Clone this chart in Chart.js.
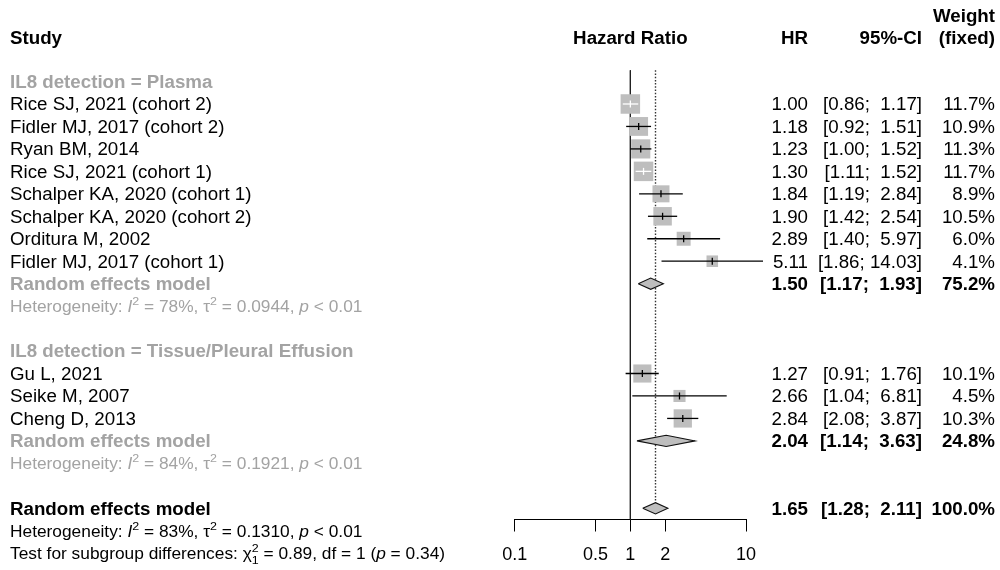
<!DOCTYPE html>
<html><head><meta charset="utf-8">
<script src="https://cdn.jsdelivr.net/npm/chart.js@4.4.1/dist/chart.umd.min.js"></script>
<style>html,body{margin:0;padding:0;background:#fff;}#wrap{width:1000px;height:570px;}</style>
</head><body><div id="wrap"><canvas id="c" width="1000" height="570"></canvas></div>
<script>
// ---------- data ----------
const studies = ["Rice SJ, 2021 (cohort 2)", "Fidler MJ, 2017 (cohort 2)", "Ryan BM, 2014", "Rice SJ, 2021 (cohort 1)",
  "Schalper KA, 2020 (cohort 1)", "Schalper KA, 2020 (cohort 2)", "Orditura M, 2002", "Fidler MJ, 2017 (cohort 1)",
  "Gu L, 2021", "Seike M, 2007", "Cheng D, 2013"];
const hr      = [1.00, 1.18, 1.23, 1.30, 1.84, 1.90, 2.89, 5.11, 1.27, 2.66, 2.84];
const ciLower = [0.86, 0.92, 1.00, 1.11, 1.19, 1.42, 1.40, 1.86, 0.91, 1.04, 2.08];
const ciUpper = [1.17, 1.51, 1.52, 1.52, 2.84, 2.54, 5.97, 14.03, 1.76, 6.81, 3.87];
const weights = [11.7, 10.9, 11.3, 11.7, 8.9, 10.5, 6.0, 4.1, 10.1, 4.5, 10.3];
const studyGroup = [0, 0, 0, 0, 0, 0, 0, 0, 1, 1, 1];
const groupLabels = ["IL8 detection = Plasma", "IL8 detection = Tissue/Pleural Effusion"];
const groupHR = [1.50, 2.04];
const groupLower = [1.17, 1.14];
const groupUpper = [1.93, 3.63];
const groupWeight = [75.2, 24.8];
const groupI2 = ["78%", "84%"];
const groupTau2 = ["0.0944", "0.1921"];
const groupP = ["< 0.01", "< 0.01"];
const overallHR = 1.65, overallLower = 1.28, overallUpper = 2.11, overallWeight = 100.0;
const overallI2 = "83%", overallTau2 = "0.1310", overallP = "< 0.01";
const testChi2 = "0.89", testDf = "1", testP = "0.34";
const xTicks = [0.1, 0.5, 1, 2, 10];

// ---------- layout (rows) ----------
const rowOf = [], groupHeadRow = [], groupSumRow = [], groupHetRow = [];
let r = -1;
groupLabels.forEach((g, gi) => {
  groupHeadRow[gi] = r++;
  studies.forEach((s, i) => { if (studyGroup[i] === gi) rowOf[i] = r++; });
  groupSumRow[gi] = r++; groupHetRow[gi] = r++; r++;
});
const overallRow = r, overallHetRow = r + 1, testRow = r + 2;
const headerRow = -2.95, header2Row = -3.93;
const yMin = groupHeadRow[0] - 0.5, yMax = overallRow + 0.5;
const DH = 0.25; // diamond half height (rows)

const FONT = '"Liberation Sans", Arial, Helvetica, sans-serif';
const SX = 1.07;
const GRAY_TXT = '#a3a3a3';
const BOX = '#bebebe';
const maxW = Math.max(...weights);
const boxSide = w => 19.5 * Math.sqrt(w / maxW);

function ciInside(chart, i) {
  const xs = chart.scales.x;
  const c = xs.getPixelForValue(hr[i]), h = boxSide(weights[i]) / 2;
  return xs.getPixelForValue(ciLower[i]) >= c - h && xs.getPixelForValue(ciUpper[i]) <= c + h;
}

// ---------- datasets ----------
const datasets = [];
datasets.push({ label: 'null', data: [{x: 1, y: yMin}, {x: 1, y: yMax}], showLine: true, pointRadius: 0,
  borderColor: '#222', borderWidth: 1, order: 100, clip: false });
datasets.push({ label: 'overall', data: [{x: overallHR, y: yMin}, {x: overallHR, y: overallRow - DH}], showLine: true, pointRadius: 0,
  borderColor: '#333', borderWidth: 1.4, borderDash: [1.5, 1.7], order: 99, clip: false });
datasets.push({ label: 'boxes', data: hr.map((v, i) => ({x: v, y: rowOf[i]})), showLine: false,
  pointStyle: 'rect', pointRadius: c => boxSide(weights[c.dataIndex]) / (2 * Math.SQRT1_2),
  pointBackgroundColor: BOX, pointBorderColor: BOX, pointBorderWidth: 0, order: 50, clip: false });
hr.forEach((v, i) => {
  datasets.push({ label: 'ci' + i, data: [{x: ciLower[i], y: rowOf[i]}, {x: ciUpper[i], y: rowOf[i]}],
    showLine: true, pointRadius: 0, borderWidth: 1.3,
    borderColor: c => ciInside(c.chart, i) ? '#ffffff' : '#000000', order: 40, clip: false });
});
datasets.push({ label: 'est', data: hr.map((v, i) => ({x: v, y: rowOf[i]})), showLine: false,
  pointStyle: 'line', pointRotation: 90, pointRadius: 3.5, pointBorderWidth: 1.3,
  pointBorderColor: c => ciInside(c.chart, c.dataIndex) ? '#ffffff' : '#000000', order: 30, clip: false });
function diamond(est, lo, hi, row) {
  return { data: [{x: lo, y: row}, {x: est, y: row - DH}, {x: hi, y: row}, {x: est, y: row + DH}, {x: lo, y: row}],
    showLine: true, pointRadius: 0, fill: 'shape', backgroundColor: BOX, borderColor: '#111', borderWidth: 1.1,
    tension: 0, order: 20, clip: false };
}
groupHR.forEach((v, gi) => datasets.push(diamond(v, groupLower[gi], groupUpper[gi], groupSumRow[gi])));
datasets.push(diamond(overallHR, overallLower, overallUpper, overallRow));

// ---------- text ----------
function drawRich(ctx, segs, x, y, align, size, color, bold) {
  const w8 = bold ? 'bold ' : '';
  const parts = segs.map(s => typeof s === 'string' ? {t: s} : s);
  const fnt = (p, sz) => `${p.i ? 'italic ' : ''}${w8}${sz}px ${FONT}`;
  const ss = size * 0.72;
  const widthOf = p => {
    if (p.sup !== undefined || p.supsub) {
      ctx.font = fnt({}, ss);
      const a = p.supsub ? Math.max(ctx.measureText(p.supsub[0]).width, ctx.measureText(p.supsub[1]).width) : ctx.measureText(p.sup).width;
      return a * SX;
    }
    ctx.font = fnt(p, size);
    return ctx.measureText(p.t).width * SX;
  };
  const total = parts.reduce((a, p) => a + widthOf(p), 0);
  let cx = align === 'right' ? x - total : align === 'center' ? x - total / 2 : x;
  const base = y + size * 0.36;
  ctx.fillStyle = color;
  ctx.textBaseline = 'alphabetic';
  ctx.textAlign = 'left';
  const put = (t, font, px, py) => { ctx.save(); ctx.font = font; ctx.translate(px, py); ctx.scale(SX, 1); ctx.fillText(t, 0, 0); ctx.restore(); };
  parts.forEach(p => {
    const w = widthOf(p);
    if (p.supsub) {
      put(p.supsub[0], fnt({}, ss), cx, base - size * 0.42);
      put(p.supsub[1], fnt({}, ss), cx, base + size * 0.3);
    } else if (p.sup !== undefined) {
      put(p.sup, fnt({}, ss), cx, base - size * 0.42);
    } else {
      put(p.t, fnt(p, size), cx, base);
    }
    cx += w;
  });
}
const ciText = (lo, hi) => `[${lo.toFixed(2)}; ${hi < 10 ? ' ' : ''}${hi.toFixed(2)}]`;
const hetSegs = (i2, tau2, p) => ['Heterogeneity: ', {t: 'I', i: true}, {sup: '2'}, ` = ${i2}, \u03c4`, {sup: '2'}, ` = ${tau2}, `, {t: 'p', i: true}, ` ${p}`];

const textPlugin = {
  id: 'forestText',
  afterDraw(chart) {
    const ctx = chart.ctx, ys = chart.scales.y, xs = chart.scales.x;
    const Y = row => ys.getPixelForValue(row);
    const M = 17.5, S = 16.2;
    const xL = 10, xHR = 808, xCI = 922, xW = 995;
    // headers
    drawRich(ctx, ['Study'], xL, Y(headerRow), 'left', M, '#000', true);
    drawRich(ctx, ['Hazard Ratio'], xs.getPixelForValue(1), Y(headerRow), 'center', M, '#000', true);
    drawRich(ctx, ['HR'], xHR, Y(headerRow), 'right', M, '#000', true);
    drawRich(ctx, ['95%-CI'], xCI, Y(headerRow), 'right', M, '#000', true);
    drawRich(ctx, ['Weight'], xW, Y(header2Row), 'right', M, '#000', true);
    drawRich(ctx, ['(fixed)'], xW, Y(headerRow), 'right', M, '#000', true);
    groupLabels.forEach((g, gi) => {
      drawRich(ctx, [g], xL, Y(groupHeadRow[gi]), 'left', M, GRAY_TXT, true);
      const sr = Y(groupSumRow[gi]);
      drawRich(ctx, ['Random effects model'], xL, sr, 'left', M, GRAY_TXT, true);
      drawRich(ctx, [groupHR[gi].toFixed(2)], xHR, sr, 'right', M, '#000', true);
      drawRich(ctx, [ciText(groupLower[gi], groupUpper[gi])], xCI, sr, 'right', M, '#000', true);
      drawRich(ctx, [groupWeight[gi].toFixed(1) + '%'], xW, sr, 'right', M, '#000', true);
      drawRich(ctx, hetSegs(groupI2[gi], groupTau2[gi], groupP[gi]), xL, Y(groupHetRow[gi]), 'left', S, GRAY_TXT, false);
    });
    studies.forEach((s, i) => {
      const y = Y(rowOf[i]);
      drawRich(ctx, [s], xL, y, 'left', M, '#000', false);
      drawRich(ctx, [hr[i].toFixed(2)], xHR, y, 'right', M, '#000', false);
      drawRich(ctx, [ciText(ciLower[i], ciUpper[i])], xCI, y, 'right', M, '#000', false);
      drawRich(ctx, [weights[i].toFixed(1) + '%'], xW, y, 'right', M, '#000', false);
    });
    const oy = Y(overallRow);
    drawRich(ctx, ['Random effects model'], xL, oy, 'left', M, '#000', true);
    drawRich(ctx, [overallHR.toFixed(2)], xHR, oy, 'right', M, '#000', true);
    drawRich(ctx, [ciText(overallLower, overallUpper)], xCI, oy, 'right', M, '#000', true);
    drawRich(ctx, [overallWeight.toFixed(1) + '%'], xW, oy, 'right', M, '#000', true);
    drawRich(ctx, hetSegs(overallI2, overallTau2, overallP), xL, Y(overallHetRow), 'left', S, '#000', false);
    drawRich(ctx, ['Test for subgroup differences: \u03c7', {supsub: ['2', testDf]}, ` = ${testChi2}, df = ${testDf} (`, {t: 'p', i: true}, ` = ${testP})`],
      xL, Y(testRow), 'left', S, '#000', false);
  }
};

new Chart(document.getElementById('c'), {
  type: 'scatter',
  data: { datasets },
  options: {
    responsive: false, animation: false, devicePixelRatio: 1,
    layout: { padding: { left: 514.7, right: 254, top: 70.3, bottom: 0 } },
    plugins: { legend: { display: false }, tooltip: { enabled: false } },
    elements: { line: { tension: 0 } },
    scales: {
      x: {
        type: 'logarithmic', min: 0.1, max: 10, position: 'bottom',
        afterBuildTicks: s => { s.ticks = xTicks.map(v => ({ value: v })); },
        afterFit: s => { s.height = 50.5; },
        ticks: { callback: v => String(v), font: { family: FONT, size: 18 }, color: '#000', padding: 13, maxRotation: 0, autoSkip: false },
        grid: { display: true, drawOnChartArea: false, drawTicks: true, tickLength: 12, color: '#000', lineWidth: 1 },
        border: { display: true, color: '#000', width: 1 }
      },
      y: { type: 'linear', reverse: true, min: yMin, max: yMax, display: false }
    }
  },
  plugins: [textPlugin]
});
</script></body></html>
